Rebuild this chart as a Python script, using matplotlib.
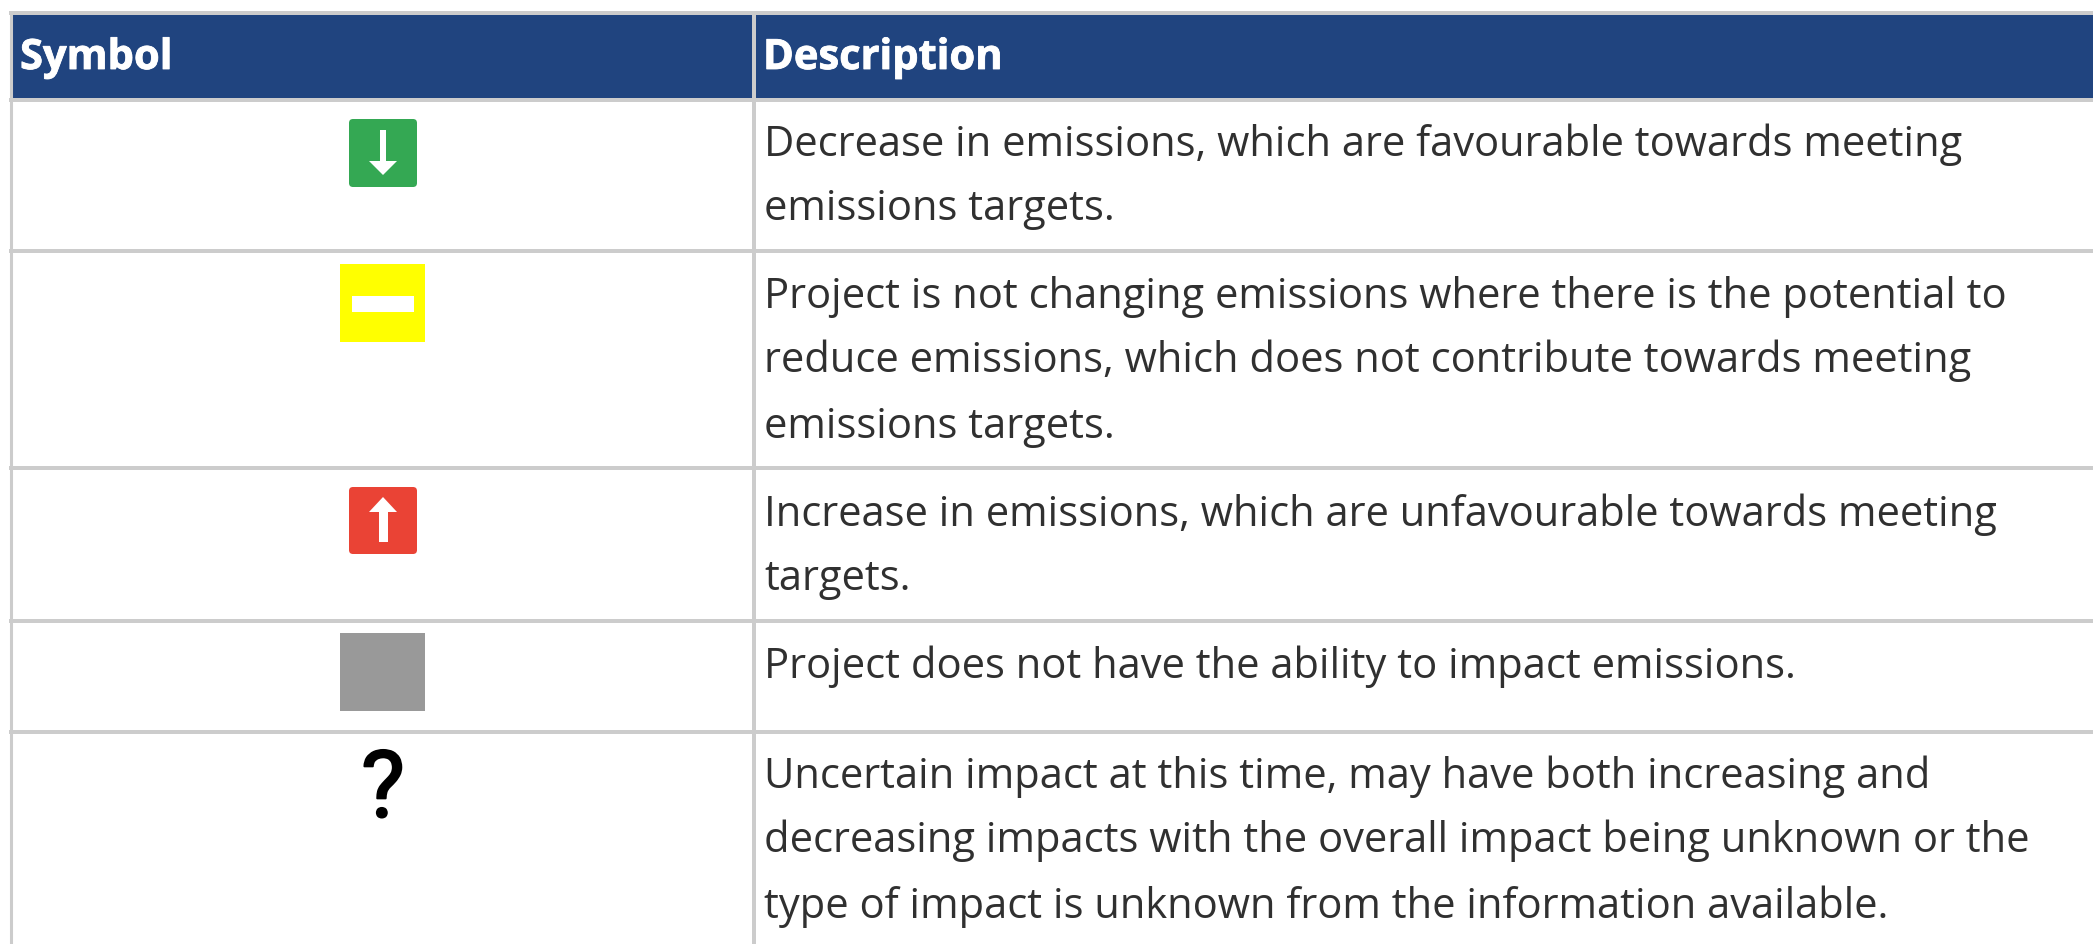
import matplotlib
matplotlib.use("Agg")
import matplotlib.pyplot as plt
import matplotlib.patheffects as pe
from matplotlib.patches import Rectangle, FancyBboxPatch, Polygon

W, H = 2093, 944

headers = ["Symbol", "Description"]
descriptions = [
    ["Decrease in emissions, which are favourable towards meeting", "emissions targets."],
    ["Project is not changing emissions where there is the potential to",
     "reduce emissions, which does not contribute towards meeting", "emissions targets."],
    ["Increase in emissions, which are unfavourable towards meeting", "targets."],
    ["Project does not have the ability to impact emissions."],
    ["Uncertain impact at this time, may have both increasing and",
     "decreasing impacts with the overall impact being unknown or the",
     "type of impact is unknown from the information available."],
]
first_baselines = [155.5, 307.5, 525.5, 678, 787.5]
row_lines = [100, 251.2, 467.5, 621.2, 731.5]

NAVY, LINE, TXT = "#20447f", "#cccccc", "#303030"

fig = plt.figure(figsize=(W / 100, H / 100), dpi=100, facecolor="white")
ax = fig.add_axes([0, 0, 1, 1])
ax.set_xlim(0, W)
ax.set_ylim(H, 0)
ax.axis("off")

# header band
ax.add_patch(Rectangle((12, 15), W - 12, 84, fc=NAVY, ec="none", zorder=1))

# grid
lw = 4 * 0.72
ax.plot([10.5, 10.5], [11, H], color=LINE, lw=2.2, solid_capstyle="butt", zorder=2)
ax.plot([753.5, 753.5], [13, H], color=LINE, lw=lw, solid_capstyle="butt", zorder=2)
ax.plot([9, W], [13, 13], color=LINE, lw=lw, solid_capstyle="butt", zorder=2)
for y in row_lines:
    ax.plot([9, W], [y, y], color=LINE, lw=lw, solid_capstyle="butt", zorder=2)

# header text
ax.text(20, 69, headers[0], color="white", fontsize=30, fontweight="bold",
        family="Open Sans", va="baseline", ha="left", zorder=3,
        path_effects=[pe.withStroke(linewidth=0.6, foreground="white")])
ax.text(763, 69, headers[1], color="white", fontsize=30, fontweight="bold",
        family="Open Sans", va="baseline", ha="left", zorder=3,
        path_effects=[pe.withStroke(linewidth=0.6, foreground="white")])

# descriptions
for lines, y0 in zip(descriptions, first_baselines):
    for i, s in enumerate(lines):
        ax.text(764, y0 + i * 65, s, color=TXT, fontsize=29.98, family="Open Sans",
                va="baseline", ha="left", zorder=3)

# green symbol
ax.add_patch(FancyBboxPatch((352, 122), 62, 62, boxstyle="round,pad=3,rounding_size=4",
                            fc="#34a853", ec="none", zorder=3))
ax.add_patch(Rectangle((380, 130), 6, 32, fc="white", ec="none", zorder=4))
ax.add_patch(Polygon([(369, 161), (397, 161), (383, 175)], fc="white", ec="none", zorder=4))

# yellow symbol
ax.add_patch(Rectangle((340, 264), 85, 78, fc="#ffff00", ec="none", zorder=3))
ax.add_patch(Rectangle((352, 296), 62, 16, fc="white", ec="none", zorder=4))

# red symbol
ax.add_patch(FancyBboxPatch((352, 490), 62, 61, boxstyle="round,pad=3,rounding_size=4",
                            fc="#ea4335", ec="none", zorder=3))
ax.add_patch(Rectangle((379, 511), 9, 31, fc="white", ec="none", zorder=4))
ax.add_patch(Polygon([(369, 512), (397, 512), (383, 497)], fc="white", ec="none", zorder=4))

# gray symbol
ax.add_patch(Rectangle((340, 633), 85, 78, fc="#999999", ec="none", zorder=3))

# question mark
ax.text(383, 817, "?", color="black", fontsize=67, fontweight="normal", family="Roboto",
        va="baseline", ha="center", zorder=3,
        path_effects=[pe.withStroke(linewidth=1.4, foreground="black")])

fig.savefig("out.png", dpi=100, facecolor="white")
